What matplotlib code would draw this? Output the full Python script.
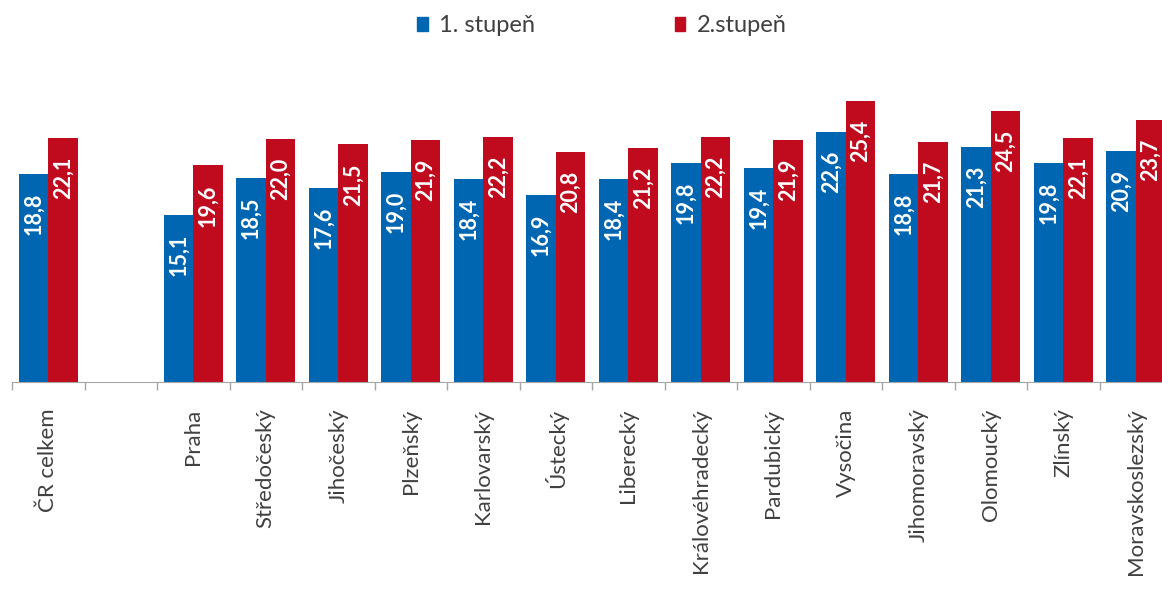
import numpy as np
import matplotlib
matplotlib.use("Agg")
import matplotlib.pyplot as plt
from matplotlib.patches import Patch

# --- data ---
regions = ["ČR celkem", "", "Praha", "Středočeský", "Jihočeský", "Plzeňský",
           "Karlovarský", "Ústecký", "Liberecký", "Královéhradecký",
           "Pardubický", "Vysočina", "Jihomoravský", "Olomoucký", "Zlínský",
           "Moravskoslezský"]
stupen1 = [18.8, np.nan, 15.1, 18.5, 17.6, 19.0, 18.4, 16.9, 18.4, 19.8,
           19.4, 22.6, 18.8, 21.3, 19.8, 20.9]
stupen2 = [22.1, np.nan, 19.6, 22.0, 21.5, 21.9, 22.2, 20.8, 21.2, 22.2,
           21.9, 25.4, 21.7, 24.5, 22.1, 23.7]
series_names = ["1. stupeň", "2.stupeň"]

BLUE = "#0066B2"
RED = "#C00A1E"
TXT = "#404040"
FONT = ["Lato", "DejaVu Sans"]

plt.rcParams["font.family"] = FONT

W, H = 1162, 591
fig = plt.figure(figsize=(W / 100, H / 100), dpi=100)
# axes runs past the right edge, like the clipped original
ax = fig.add_axes([12 / W, (H - 382) / H, 1160 / W, 331.5 / H])

x = np.arange(len(regions))
bw = 0.41
b1 = ax.bar(x - bw / 2, stupen1, bw, color=BLUE)
b2 = ax.bar(x + bw / 2, stupen2, bw, color=RED)

for bars, vals in [(b1, stupen1), (b2, stupen2)]:
    for rect, v in zip(bars, vals):
        if np.isnan(v):
            continue
        ax.annotate(f"{v:.1f}".replace(".", ","),
                    (rect.get_x() + rect.get_width() / 2, v),
                    xytext=(0, -13.5), textcoords="offset points",
                    ha="center", va="top", rotation=90,
                    color="white", fontsize=15.5, fontweight="bold")

ax.set_xlim(-0.5, len(regions) - 0.5)
ax.set_ylim(0, 30)

ax.set_xticks(np.arange(len(regions) + 1) - 0.5)
ax.set_xticklabels([])
ax.tick_params(axis="x", which="major", length=6, color="#A6A6A6", width=1)
ax.set_xticks(x, minor=True)
ax.set_xticklabels(regions, minor=True, rotation=90, fontsize=16,
                   color=TXT, va="top")
ax.tick_params(axis="x", which="minor", length=0, pad=19)
ax.set_yticks([])

for s in ["top", "right", "left"]:
    ax.spines[s].set_visible(False)
ax.spines["bottom"].set_color("#A6A6A6")

handles = [Patch(color=BLUE), Patch(color=RED)]
fig.legend(handles, series_names, loc="center", bbox_to_anchor=(602 / W, 1 - 26 / H),
           ncol=2, frameon=False, fontsize=17, handlelength=0.45, handleheight=0.5,
           handletextpad=0.5, columnspacing=5.9, labelcolor=TXT)

fig.savefig("out.png", dpi=100)
